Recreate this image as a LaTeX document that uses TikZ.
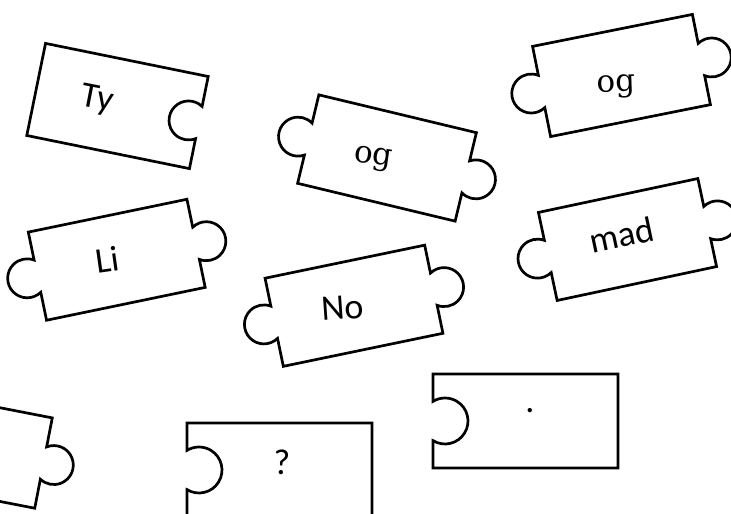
\documentclass[tikz,border=0pt]{standalone}
\usepackage{fontspec}
\setsansfont{Carlito}
\newfontfamily\pzserif{DejaVu Serif}
\tikzset{
  pzline/.style={draw=black,fill=white,line width=2.7pt,line join=miter},
  pzlab/.style={font=\sffamily\fontsize{36}{40}\selectfont,inner sep=0pt},
  pzlabS/.style={font=\pzserif\fontsize{31}{36}\selectfont,inner sep=0pt},
}
\newcommand{\pzr}{19.5}% knob radius
\newcommand{\pzd}{10.5}% knob centre off the edge
\newcommand{\pzpiece}[7]{% #1,#2 = centre, #3 = angle, #4 = width, #5 = height, #6 = left side, #7 = right side (0 flat, 1 knob, 2 slot)
  \begin{scope}[shift={(#1,#2)},rotate=#3]
  \pgfmathsetmacro{\pzw}{#4/2}
  \pgfmathsetmacro{\pzh}{#5/2}
  \pgfmathsetmacro{\pzc}{sqrt(\pzr*\pzr-\pzd*\pzd)}
  \pgfmathsetmacro{\pzb}{atan2(\pzc,\pzd)}
  \ifcase#7 \def\pzright{-- (\pzw,\pzh)}%
  \or \def\pzright{-- (\pzw,-\pzc) arc[start angle=-180+\pzb,end angle=180-\pzb,radius=\pzr] -- (\pzw,\pzh)}%
  \or \def\pzright{-- (\pzw,-\pzc) arc[start angle=-\pzb,end angle=\pzb-360,radius=\pzr] -- (\pzw,\pzh)}\fi
  \ifcase#6 \def\pzleft{}%
  \or \def\pzleft{-- (-\pzw,\pzc) arc[start angle=\pzb,end angle=360-\pzb,radius=\pzr]}%
  \or \def\pzleft{-- (-\pzw,\pzc) arc[start angle=180-\pzb,end angle=\pzb-180,radius=\pzr]}\fi
  \draw[pzline] (-\pzw,-\pzh) -- (\pzw,-\pzh) \pzright -- (-\pzw,\pzh) \pzleft -- cycle;
  \end{scope}}

\begin{document}
\begin{tikzpicture}[x=1pt,y=-1pt]
\useasboundingbox (0,0) rectangle (731,514);
\clip (0,0) rectangle (731,514);
% ---- tilted pieces
\pzpiece{117.5}{106}{-11.5}{166}{94}{0}{2}
\pzpiece{387}{158}{-13.5}{162}{91}{1}{1}
\pzpiece{621.5}{75.5}{11.3}{163}{92}{1}{1}
\pzpiece{116.75}{259.75}{11.7}{162}{90}{1}{1}
\pzpiece{354}{305.75}{11.7}{163}{90}{1}{1}
\pzpiece{627.5}{239.5}{12}{163}{90}{1}{1}
\pzpiece{-36.5}{447.5}{-11}{163}{92}{0}{1}
% ---- straight pieces, wider slots
\renewcommand{\pzr}{23}
\renewcommand{\pzd}{12}
\pzpiece{279.5}{470}{0}{185}{94}{2}{0}
\pzpiece{525.5}{421}{0}{185}{94}{2}{0}
% ---- labels
\node[pzlab,rotate=-11] (ty) at (97,100) {Ty};
\node[pzlabS,rotate=-8] (ogA) at (373,159) {og};
\node[pzlabS,rotate=2] (ogB) at (616,87) {og};
\node[pzlab,rotate=8] (li) at (107,260) {Li};
\node[pzlab,rotate=4] (no) at (343,308) {No};
\node[pzlab,rotate=12] (mad) at (622,235) {mad};
\node[pzlab,anchor=base] (qm) at (282,474) {?};
\node[pzlab,anchor=base] (dot) at (530,412.5) {.};
\end{tikzpicture}
\end{document}
